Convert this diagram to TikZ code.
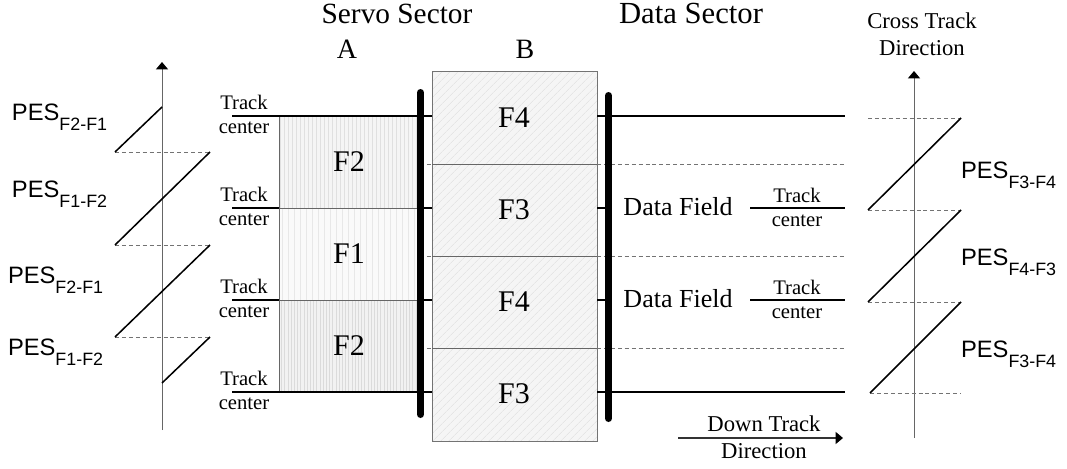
\documentclass[tikz,border=0pt]{standalone}
\usepackage{fontspec}
\setmainfont{Liberation Serif}
\newfontfamily\pesfamily{Liberation Sans}
\usetikzlibrary{arrows.meta,patterns.meta}

% position error signal label: PES with a lowered subscript
\newcommand{\peslabel}[1]{{\pesfamily\fontsize{17.8}{20}\selectfont PES\raisebox{-7.5pt}{\fontsize{13.4}{15}\selectfont #1}}}

\begin{document}
\begin{tikzpicture}[x=0.75pt,y=-0.75pt,
  txt/.style={inner sep=0pt, outer sep=0pt},
  heading/.style={txt, anchor=base, font=\fontsize{22}{26}\selectfont},
  colname/.style={txt, anchor=base, font=\fontsize{21}{25}\selectfont},
  burst/.style={txt, anchor=base, font=\fontsize{22.5}{26}\selectfont},
  datafield/.style={txt, anchor=base, font=\fontsize{19.5}{23}\selectfont},
  tclabel/.style={txt, align=center, font=\fontsize{15.5}{18}\selectfont},
  dirlabel/.style={txt, align=center, font=\fontsize{17}{20}\selectfont},
  peslab/.style={txt, anchor=base west},
  trackline/.style={line width=2.2pt},
  sectorbar/.style={line width=5.25pt, line cap=round},
  divider/.style={draw=black!60, line width=0.7pt},
  boundary/.style={draw=black!55, line width=0.65pt, dash pattern=on 3pt off 2.2pt},
  saw/.style={line width=1.15pt},
  bigtip/.style={-{Triangle[width=9pt,length=5.5pt,color=black]}},
  axis/.style={draw=black!60, line width=0.75pt, bigtip},
]
\useasboundingbox (0,0) rectangle (1067,468);

% ---- burst A: vertically hatched fields
\fill[black!4] (279,116) rectangle (420,208);
\fill[pattern={Lines[angle=90,distance=3pt,line width=0.6pt]}, pattern color=black!12] (279,116) rectangle (420,208);
\fill[black!2] (279,208) rectangle (420,300);
\fill[pattern={Lines[angle=90,distance=4.5pt,line width=0.6pt]}, pattern color=black!9] (279,208) rectangle (420,300);
\fill[black!5] (279,300) rectangle (420,392);
\fill[pattern={Lines[angle=90,distance=2.4pt,line width=0.6pt]}, pattern color=black!14] (279,300) rectangle (420,392);
\draw[divider] (279,116) -- (279,392);
\draw[divider] (279,208) -- (420,208);
\draw[divider] (279,300) -- (420,300);

% ---- burst B: diagonally hatched fields
\fill[black!4] (432,71) rectangle (597,441);
\fill[pattern={Lines[angle=45,distance=4pt,line width=0.5pt]}, pattern color=black!10] (432,71) rectangle (597,441);
\draw[draw=black!55, line width=0.75pt] (432,71) rectangle (597,441);
\draw[divider] (432,164) -- (597,164);
\draw[divider] (432,256) -- (597,256);
\draw[divider] (432,348) -- (597,348);

% ---- track boundaries (dashed)
\foreach \y in {164,256,348} {
  \draw[boundary] (420,\y) -- (432,\y);
  \draw[boundary] (597,\y) -- (845,\y);
}

% ---- track centres (thick)
\draw[trackline] (232,116) -- (432,116);
\draw[trackline] (597,116) -- (845,116);
\draw[trackline] (232,392) -- (432,392);
\draw[trackline] (597,392) -- (845,392);
\foreach \y in {208,300} {
  \draw[trackline] (232,\y) -- (279,\y);
  \draw[trackline] (420,\y) -- (432,\y);
  \draw[trackline] (597,\y) -- (608,\y);
  \draw[trackline] (750,\y) -- (845,\y);
}

% ---- sector boundaries
\coordinate (barLtop) at (420.5,92.5);
\coordinate (barLbot) at (420.5,414.5);
\coordinate (barRtop) at (608.5,95.5);
\coordinate (barRbot) at (608.5,418.5);
\draw[sectorbar] (barLtop) -- (barLbot);
\draw[sectorbar] (barRtop) -- (barRbot);

% ---- headings
\node[heading] (servo) at (397,23) {Servo Sector};
\node[heading, font=\fontsize{23}{27}\selectfont] (datasec) at (691,23) {Data Sector};
\node[colname] (colA) at (347,58) {A};
\node[colname] (colB) at (525,58) {B};

% ---- burst field labels
\node[burst] (a1) at (349,171) {F2};
\node[burst] (a2) at (349,263) {F1};
\node[burst] (a3) at (349,355) {F2};
\node[burst] (b1) at (514,127) {F4};
\node[burst] (b2) at (514,219) {F3};
\node[burst] (b3) at (514,311) {F4};
\node[burst] (b4) at (514,403) {F3};

% ---- track centre labels
\node[tclabel] (tc1) at (244,114) {Track\\center};
\node[tclabel] (tc2) at (244,206) {Track\\center};
\node[tclabel] (tc3) at (244,298) {Track\\center};
\node[tclabel] (tc4) at (244,390) {Track\\center};
\node[tclabel] (tc5) at (797,207) {Track\\center};
\node[tclabel] (tc6) at (797,299) {Track\\center};

\node[datafield] (df1) at (678,215) {Data Field};
\node[datafield] (df2) at (678,307) {Data Field};

% ---- direction labels
\node[dirlabel] (cross) at (922,34) {Cross Track\\Direction};
\node[dirlabel] (down) at (764,437) {Down Track\\Direction};
\coordinate (downS) at (678,438);
\coordinate (downE) at (843,438);
\draw[draw=black!80, line width=0.8pt, bigtip] (downS) -- (downE);

% ---- left PES characteristic (F1/F2 burst pair)
\coordinate (axLbot) at (162,430);
\coordinate (axLtop) at (162,62);
\draw[axis] (axLbot) -- (axLtop);
\draw[boundary] (115,152) -- (210,152);
\draw[boundary] (115,245) -- (210,245);
\draw[boundary] (115,337) -- (210,337);
\draw[saw] (115,152) -- (162,107);
\draw[saw] (115,245) -- (210,152);
\draw[saw] (115,337) -- (210,245);
\draw[saw] (162,383) -- (210,337);

\node[peslab] (pl1) at (12,120) {\peslabel{F2-F1}};
\node[peslab] (pl2) at (12,197) {\peslabel{F1-F2}};
\node[peslab] (pl3) at (8,283) {\peslabel{F2-F1}};
\node[peslab] (pl4) at (8,355) {\peslabel{F1-F2}};

% ---- right PES characteristic (F3/F4 burst pair)
\coordinate (axRbot) at (914,438);
\coordinate (axRtop) at (914,71);
\draw[axis] (axRbot) -- (axRtop);
\draw[boundary] (868,118) -- (961,118);
\draw[boundary] (868,210) -- (961,210);
\draw[boundary] (868,302) -- (961,302);
\draw[boundary] (870,393) -- (961,393);
\draw[saw] (868,210) -- (961,118);
\draw[saw] (868,302) -- (961,210);
\draw[saw] (870,393) -- (961,302);

\node[peslab] (pr1) at (961,178) {\peslabel{F3-F4}};
\node[peslab] (pr2) at (961,265) {\peslabel{F4-F3}};
\node[peslab] (pr3) at (961,357) {\peslabel{F3-F4}};
\end{tikzpicture}
\end{document}
